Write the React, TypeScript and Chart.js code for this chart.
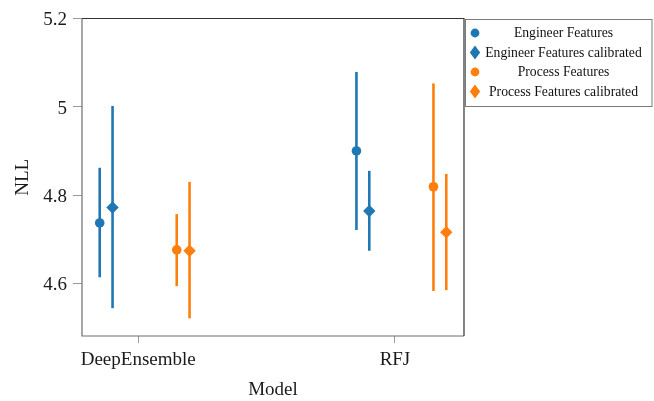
import React, { useEffect, useRef } from "react";
import { Chart, registerables } from "chart.js";

Chart.register(...registerables);

const categories = ["DeepEnsemble", "RFJ"];
const seriesNames = [
  "Engineer Features",
  "Engineer Features calibrated",
  "Process Features",
  "Process Features calibrated",
];
const seriesColors = ["#1f77b4", "#1f77b4", "#ff7f0e", "#ff7f0e"];
const seriesShapes = ["circle", "rectRot", "circle", "rectRot"];
const dodge = [-0.15, -0.1, 0.15, 0.2];

const engMean = [4.737, 4.9];
const engLow = [4.614, 4.721];
const engHigh = [4.862, 5.079];

const engCalMean = [4.772, 4.764];
const engCalLow = [4.544, 4.674];
const engCalHigh = [5.002, 4.855];

const procMean = [4.676, 4.819];
const procLow = [4.594, 4.583];
const procHigh = [4.757, 5.053];

const procCalMean = [4.674, 4.716];
const procCalLow = [4.521, 4.585];
const procCalHigh = [4.83, 4.848];

const yTicks = [4.6, 4.8, 5, 5.2];

const means = [engMean, engCalMean, procMean, procCalMean];
const lows = [engLow, engCalLow, procLow, procCalLow];
const highs = [engHigh, engCalHigh, procHigh, procCalHigh];

const FONT = "'Liberation Serif', 'Times New Roman', serif";

export default function App() {
  const ref = useRef<HTMLCanvasElement | null>(null);

  useEffect(() => {
    if (!ref.current) return;

    const datasets = seriesNames.map((name, s) => ({
      label: name,
      data: categories.map((_, i) => ({
        x: i + dodge[s],
        y: means[s][i],
        lo: lows[s][i],
        hi: highs[s][i],
      })),
      backgroundColor: seriesColors[s],
      borderColor: seriesColors[s],
      pointStyle: seriesShapes[s],
      pointRadius: seriesShapes[s] === "circle" ? 4.8 : 6.2,
      pointBorderWidth: 0,
      showLine: false,
    }));

    const errorBars = {
      id: "errorBars",
      beforeDatasetsDraw(chart: any) {
        const ctx = chart.ctx;
        const xs = chart.scales.x;
        const ys = chart.scales.y;
        ctx.save();
        chart.data.datasets.forEach((ds: any, s: number) => {
          ctx.strokeStyle = seriesColors[s];
          ctx.lineWidth = 2.6;
          ds.data.forEach((p: any) => {
            const px = xs.getPixelForValue(p.x);
            ctx.beginPath();
            ctx.moveTo(px, ys.getPixelForValue(p.lo));
            ctx.lineTo(px, ys.getPixelForValue(p.hi));
            ctx.stroke();
          });
        });
        ctx.restore();
      },
    };

    const frame = {
      id: "frame",
      afterDraw(chart: any) {
        const ctx = chart.ctx;
        const a = chart.chartArea;
        ctx.save();
        ctx.lineWidth = 1.2;
        ctx.strokeStyle = "#6e6e6e";
        ctx.beginPath();
        ctx.moveTo(a.left, a.top);
        ctx.lineTo(a.left, a.bottom);
        ctx.lineTo(a.right, a.bottom);
        ctx.stroke();
        ctx.strokeStyle = "#333333";
        ctx.beginPath();
        ctx.moveTo(a.left, a.top);
        ctx.lineTo(a.right, a.top);
        ctx.lineTo(a.right, a.bottom);
        ctx.stroke();

        // legend box
        const lx = 465.5;
        const ly = 19.5;
        const lw = 186.5;
        const lh = 87;
        ctx.fillStyle = "#ffffff";
        ctx.fillRect(lx, ly, lw, lh);
        ctx.strokeStyle = "#7a7a7a";
        ctx.lineWidth = 1;
        ctx.strokeRect(lx, ly, lw, lh);

        const rows = [33, 52.5, 72, 91.5];
        ctx.font = "13.7px " + FONT;
        ctx.textAlign = "center";
        ctx.textBaseline = "middle";
        seriesNames.forEach((name, s) => {
          const y = rows[s];
          const mx = 475;
          ctx.fillStyle = seriesColors[s];
          ctx.beginPath();
          if (seriesShapes[s] === "circle") {
            ctx.arc(mx, y, 4.4, 0, Math.PI * 2);
          } else {
            ctx.moveTo(mx, y - 7);
            ctx.lineTo(mx + 5.2, y);
            ctx.lineTo(mx, y + 7);
            ctx.lineTo(mx - 5.2, y);
            ctx.closePath();
          }
          ctx.fill();
          ctx.fillStyle = "#111";
          ctx.fillText(name, 563.5, y + 0.5);
        });
        ctx.restore();
      },
    };

    const chart = new Chart(ref.current, {
      type: "scatter",
      data: { datasets: datasets as any },
      options: {
        animation: false,
        responsive: false,
        maintainAspectRatio: false,
        layout: { padding: { left: 0, top: 18.5, right: 190, bottom: 0 } },
        plugins: {
          legend: { display: false },
          tooltip: { enabled: false },
        },
        scales: {
          x: {
            type: "linear",
            min: -0.219,
            max: 1.269,
            afterBuildTicks(scale: any) {
              scale.ticks = categories.map((_, i) => ({ value: i }));
            },
            afterFit(scale: any) {
              scale.height = 65;
            },
            ticks: {
              callback: (v: any) => categories[Math.round(Number(v))] ?? "",
              font: { family: FONT, size: 19 },
              color: "#1a1a1a",
              padding: 6,
              autoSkip: false,
              maxRotation: 0,
            },
            grid: {
              display: true,
              drawOnChartArea: false,
              drawTicks: true,
              tickLength: 7,
              tickColor: "#9a9a9a",
            },
            border: { display: false },
            title: {
              display: true,
              text: "Model",
              font: { family: FONT, size: 19 },
              color: "#1a1a1a",
              padding: { top: 0, bottom: 0 },
            },
          },
          y: {
            type: "linear",
            min: 4.481,
            max: 5.2,
            afterBuildTicks(scale: any) {
              scale.ticks = yTicks.map((v) => ({ value: v }));
            },
            afterFit(scale: any) {
              scale.width = 82;
            },
            ticks: {
              callback: (v: any) => String(v),
              font: { family: FONT, size: 19 },
              color: "#1a1a1a",
              padding: 6,
              labelOffset: 2,
            },
            grid: {
              display: true,
              drawOnChartArea: false,
              drawTicks: true,
              tickLength: 9,
              tickColor: "#9a9a9a",
            },
            border: { display: false },
            title: {
              display: true,
              text: "NLL",
              font: { family: FONT, size: 19 },
              color: "#1a1a1a",
              padding: { top: 12, bottom: 0 },
            },
          },
        },
      },
      plugins: [errorBars, frame],
    });

    return () => chart.destroy();
  }, []);

  return (
    <div style={{ position: "fixed", left: 0, top: 0, width: 654, height: 401, background: "#fff" }}>
      <canvas ref={ref} width={654} height={401} style={{ width: 654, height: 401, display: "block" }} />
    </div>
  );
}
